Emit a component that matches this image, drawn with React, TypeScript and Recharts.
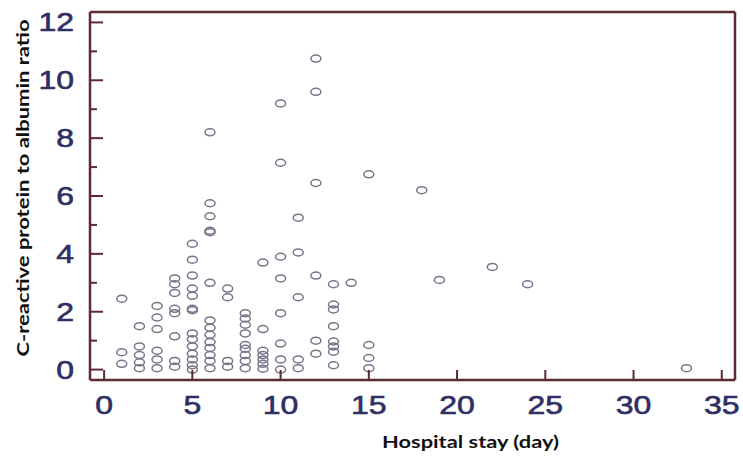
import React from 'react';
import { ScatterChart, Scatter, XAxis, YAxis } from 'recharts';

// hospital stay (days) and the CAR values
const stayDays = [1, 2, 3, 4, 5, 6, 7, 8, 9, 10, 11, 12, 13, 14, 15, 18, 19, 22, 24, 33];
const ratioColumns = [
  [2.45, 0.6, 0.2],
  [1.5, 0.8, 0.5, 0.25, 0.05],
  [2.2, 1.8, 1.4, 0.65, 0.35, 0.05],
  [3.15, 2.95, 2.65, 2.1, 1.95, 1.15, 0.3, 0.1],
  [4.35, 3.8, 3.25, 2.8, 2.55, 2.1, 2.05, 1.25, 1.05, 0.8, 0.55, 0.35, 0.15, 0.0],
  [8.2, 5.75, 5.3, 4.8, 4.75, 3.0, 1.7, 1.45, 1.2, 0.95, 0.75, 0.5, 0.3, 0.05],
  [2.8, 2.5, 0.3, 0.1],
  [1.95, 1.77, 1.55, 1.25, 0.85, 0.72, 0.5, 0.3, 0.05],
  [3.7, 1.4, 0.65, 0.5, 0.35, 0.2, 0.03],
  [9.2, 7.15, 3.9, 3.15, 1.95, 0.9, 0.35, 0.0],
  [5.25, 4.05, 2.5, 0.35, 0.05],
  [10.75, 9.6, 6.45, 3.25, 1.0, 0.55],
  [2.95, 2.25, 2.08, 1.5, 0.97, 0.8, 0.62, 0.15],
  [3.0],
  [6.75, 0.85, 0.4, 0.05],
  [6.2],
  [3.1],
  [3.55],
  [2.95],
  [0.05],
];

const xTicks = [0, 5, 10, 15, 20, 25, 30, 35];
const yTicks = [0, 1, 2, 3, 4, 5, 6, 7, 8, 9, 10, 11, 12];
const xDomain = [-0.8, 35.75];
const yDomain = [-0.36, 12.36];

const xTitle = 'Hospital stay (day)';
const yTitle = 'C-reactive protein to albumin ratio';

const points = stayDays.flatMap((day, i) => ratioColumns[i].map((ratio) => ({ day, ratio })));

const AXIS_COLOR = '#5e2a31';
const TICK_TEXT = '#2f2f64';
const TITLE_FONT = "Lato, 'Open Sans', sans-serif";
const NUM_FONT = "'Liberation Sans', Arial, sans-serif";

const XTick = ({ x, y, payload }: any) => (
  <g>
    <line x1={x} y1={y} x2={x} y2={y - 10} stroke={AXIS_COLOR} strokeWidth={2} />
    <text
      transform={`translate(${x},${y + 34}) scale(1.28,1)`}
      textAnchor="middle"
      fontSize={25}
      fill={TICK_TEXT}
      stroke={TICK_TEXT}
      strokeWidth={0.6}
      fontFamily={NUM_FONT}
    >
      {payload.value}
    </text>
  </g>
);

const YTick = ({ x, y, payload }: any) => {
  const major = payload.value % 2 === 0;
  return (
    <g>
      <line x1={x} y1={y} x2={x + (major ? 13 : 7)} y2={y} stroke={AXIS_COLOR} strokeWidth={2} />
      {major && (
        <text
          transform={`translate(${x - 16},${y + 9}) scale(1.28,1)`}
          textAnchor="end"
          fontSize={25}
          fill={TICK_TEXT}
          stroke={TICK_TEXT}
          strokeWidth={0.6}
          fontFamily={NUM_FONT}
        >
          {payload.value}
        </text>
      )}
    </g>
  );
};

const Ring = ({ cx, cy }: any) => (
  <ellipse cx={cx} cy={cy} rx={5} ry={3.5} fill="none" stroke="#76768a" strokeWidth={1.5} />
);

export default function App() {
  return (
    <div style={{ position: 'absolute', left: 0, top: 0, background: '#fff' }}>
      <ScatterChart width={743} height={461} margin={{ top: 11, right: 7, bottom: 80, left: 89 }}>
        <XAxis
          type="number"
          dataKey="day"
          domain={xDomain}
          allowDataOverflow
          ticks={xTicks}
          interval={0}
          height={1}
          tickSize={0}
          tickMargin={0}
          tickLine={false}
          tick={<XTick />}
          axisLine={{ stroke: AXIS_COLOR, strokeWidth: 2.5 }}
          label={{
            content: ({ viewBox }: any) => (
              <text
                x={viewBox.x + viewBox.width / 2 + 58}
                y={viewBox.y + 68}
                textAnchor="middle"
                fontSize={17}
                fontWeight={700}
                fontFamily={TITLE_FONT}
                fill="#111"
                textLength={177}
                lengthAdjust="spacingAndGlyphs"
              >
                {xTitle}
              </text>
            ),
          }}
        />
        <XAxis
          xAxisId="top"
          orientation="top"
          type="number"
          domain={xDomain}
          allowDataOverflow
          height={1}
          tick={false}
          tickLine={false}
          axisLine={{ stroke: AXIS_COLOR, strokeWidth: 2.5 }}
        />
        <YAxis
          type="number"
          dataKey="ratio"
          domain={yDomain}
          allowDataOverflow
          ticks={yTicks}
          interval={0}
          width={1}
          tickSize={0}
          tickMargin={0}
          tickLine={false}
          tick={<YTick />}
          axisLine={{ stroke: AXIS_COLOR, strokeWidth: 2.5 }}
          label={{
            content: ({ viewBox }: any) => {
              const cx = 22;
              const cy = viewBox.y + viewBox.height / 2 - 8;
              return (
                <text
                  x={cx}
                  y={cy}
                  transform={`rotate(-90,${cx},${cy})`}
                  textAnchor="middle"
                  dominantBaseline="central"
                  fontSize={17}
                  fontWeight={700}
                  fontFamily={TITLE_FONT}
                  fill="#111"
                  textLength={337}
                  lengthAdjust="spacingAndGlyphs"
                >
                  {yTitle}
                </text>
              );
            },
          }}
        />
        <YAxis
          yAxisId="right"
          orientation="right"
          type="number"
          domain={yDomain}
          allowDataOverflow
          width={1}
          tick={false}
          tickLine={false}
          axisLine={{ stroke: AXIS_COLOR, strokeWidth: 2.5 }}
        />
        <Scatter data={points} shape={<Ring />} isAnimationActive={false} />
      </ScatterChart>
    </div>
  );
}
